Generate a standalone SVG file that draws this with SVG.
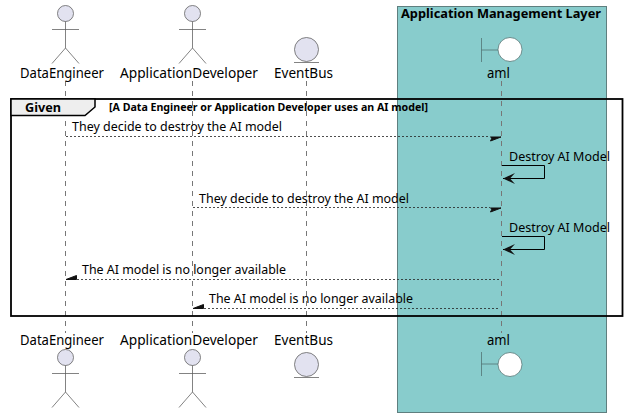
<svg xmlns="http://www.w3.org/2000/svg" width="627" height="417" viewBox="0 0 627 417">
<defs>
<style>
text{font-family:"Noto Sans","Open Sans","DejaVu Sans",sans-serif;fill:#000}
.name{font-size:14px}
.msg{font-size:13px}
.bold{font-weight:700}
.life{stroke:#777;stroke-width:1;stroke-dasharray:5 5;fill:none}
.actor circle{fill:#E2E2F0;stroke:#5a5a5a;stroke-width:.75}
.actor path{fill:none;stroke:#5a5a5a;stroke-width:.75}
.m{stroke:#222;stroke-width:.8;stroke-dasharray:2 2;fill:none}
.s{stroke:#000;stroke-width:1;fill:none}
.h{fill:#111;stroke:#111;stroke-width:1;stroke-linejoin:round}
</style>
</defs>
<g id="box-aml"><rect x="397.5" y="6.5" width="209" height="406" fill="#88CCCC" stroke="#5f7f7f" stroke-width="1"/><text x="401" y="18" class="bold" font-size="13" textLength="200" lengthAdjust="spacingAndGlyphs">Application Management Layer</text></g>
<g id="lifelines">
<path class="life" d="M65.500 81V333"/><path class="life" d="M192.500 81V333"/><path class="life" d="M306.500 81V333"/><path class="life" d="M501.500 81V333"/>
</g>
<g id="DataEngineer"><g class="actor"><circle cx="65.5" cy="13.5" r="8"/><path d="M65.500 21.500V48M52 29.500H79M65.500 48L52 63.500M65.500 48L79 63.500"/></g><text class="name" x="20" y="78" textLength="84" lengthAdjust="spacingAndGlyphs">DataEngineer</text>
<g class="actor"><circle cx="65.5" cy="357.5" r="8"/><path d="M65.500 365.500V392M52 373.500H79M65.500 392L52 407.500M65.500 392L79 407.500"/></g><text class="name" x="20" y="345" textLength="84" lengthAdjust="spacingAndGlyphs">DataEngineer</text></g>
<g id="ApplicationDeveloper"><g class="actor"><circle cx="192.5" cy="13.5" r="8"/><path d="M192.500 21.500V48M179 29.500H206M192.500 48L179 63.500M192.500 48L206 63.500"/></g><text class="name" x="120" y="78" textLength="138" lengthAdjust="spacingAndGlyphs">ApplicationDeveloper</text>
<g class="actor"><circle cx="192.5" cy="357.5" r="8"/><path d="M192.500 365.500V392M179 373.500H206M192.500 392L179 407.500M192.500 392L206 407.500"/></g><text class="name" x="120" y="345" textLength="138" lengthAdjust="spacingAndGlyphs">ApplicationDeveloper</text></g>
<g id="EventBus"><g class="actor"><circle cx="306.5" cy="49.5" r="12"/><path d="M294 62.500H319"/></g><text class="name" x="274" y="78" textLength="59" lengthAdjust="spacingAndGlyphs">EventBus</text>
<g class="actor"><circle cx="306.5" cy="364.5" r="12"/><path d="M294 377.500H319"/></g><text class="name" x="274" y="345" textLength="59" lengthAdjust="spacingAndGlyphs">EventBus</text></g>
<g id="aml"><path d="M481.500 38V62M481.500 50H498" fill="none" stroke="#4f6f6f" stroke-width=".75"/><circle cx="510" cy="49.5" r="12" fill="#fff" stroke="#4f6f6f" stroke-width=".75"/><text class="name" x="487" y="78" textLength="23" lengthAdjust="spacingAndGlyphs">aml</text>
<path d="M481.500 352V376M481.500 364H498" fill="none" stroke="#4f6f6f" stroke-width=".75"/><circle cx="510" cy="364.5" r="12" fill="#fff" stroke="#4f6f6f" stroke-width=".75"/><text class="name" x="487" y="345" textLength="23" lengthAdjust="spacingAndGlyphs">aml</text></g>
<g id="group-given"><rect x="11" y="99" width="611.500" height="217" fill="none" stroke="#000" stroke-width="1.800"/><path d="M11 99H95V107L85 115.500H11Z" fill="#EEE" stroke="#000" stroke-width="1.500"/><text x="25" y="112" class="bold" font-size="13" textLength="36" lengthAdjust="spacingAndGlyphs">Given</text><text x="109" y="111" class="bold" font-size="11" textLength="319" lengthAdjust="spacingAndGlyphs">[A Data Engineer or Application Developer uses an AI model]</text></g>
<g id="connectors">
<path class="m" d="M66 136.500H490"/><path class="h" d="M490.500 137H501L490.500 141L492 138Z"/>
<path class="s" d="M502 165.500H544.500V178.500H503"/><path d="M515 173L503 178.500L515 184L510 178.500Z" fill="#111"/>
<path class="m" d="M193 207.500H490"/><path class="h" d="M490.500 208H501L490.500 212L492 209Z"/>
<path class="s" d="M502 236.500H544.500V249.500H503"/><path d="M515 244L503 249.500L515 255L510 249.500Z" fill="#111"/>
<path class="m" d="M77 279.500H500"/><path class="h" d="M66 279.500L76.500 275.500V279.500Z"/>
<path class="m" d="M204 308.500H500"/><path class="h" d="M193 308.500L203.500 304.500V308.500Z"/>
</g>
<g id="labels">
<text class="msg" x="72" y="131" textLength="210" lengthAdjust="spacingAndGlyphs">They decide to destroy the AI model</text>
<text class="msg" x="509" y="161" textLength="101" lengthAdjust="spacingAndGlyphs">Destroy AI Model</text>
<text class="msg" x="199" y="203" textLength="210" lengthAdjust="spacingAndGlyphs">They decide to destroy the AI model</text>
<text class="msg" x="509" y="232" textLength="101" lengthAdjust="spacingAndGlyphs">Destroy AI Model</text>
<text class="msg" x="82" y="274" textLength="204" lengthAdjust="spacingAndGlyphs">The AI model is no longer available</text>
<text class="msg" x="209" y="303" textLength="204" lengthAdjust="spacingAndGlyphs">The AI model is no longer available</text>
</g>
</svg>
